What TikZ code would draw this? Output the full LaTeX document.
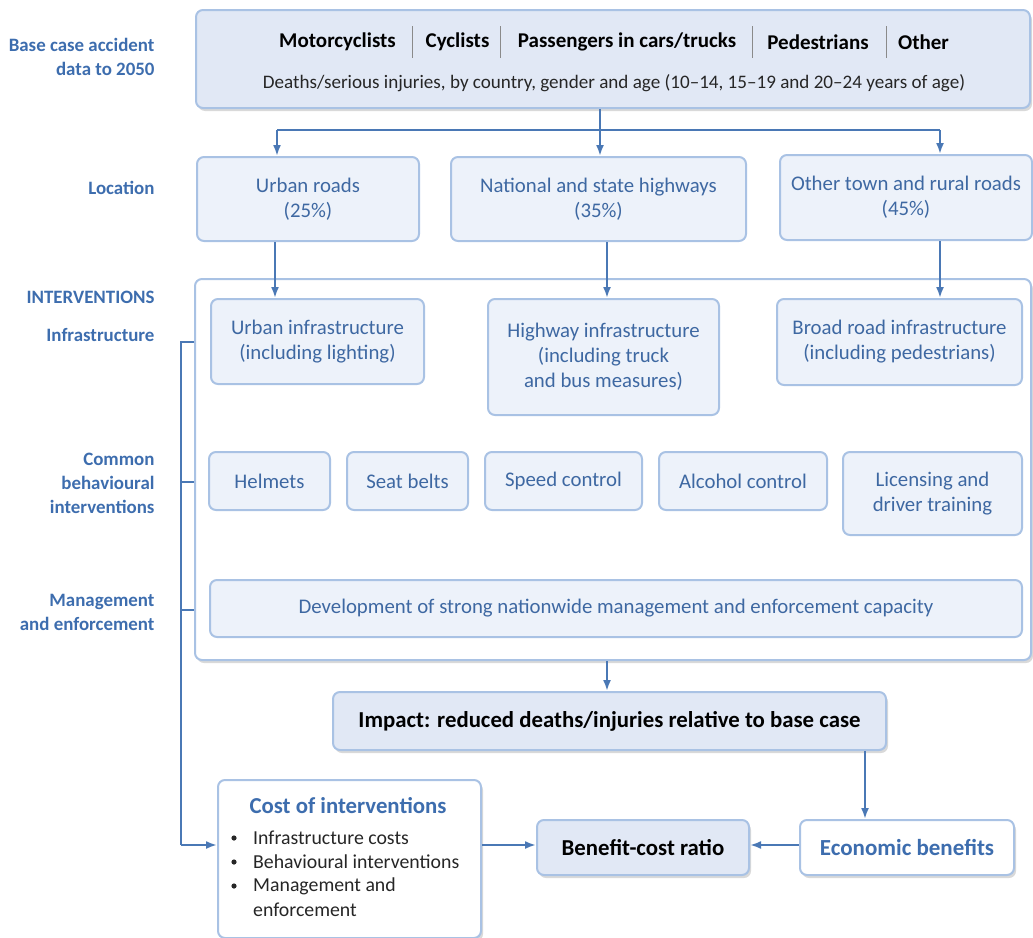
\documentclass[tikz,border=0pt]{standalone}
\usepackage{fontspec}
\setmainfont{Carlito}
\usetikzlibrary{arrows.meta,shadows,calc}
\definecolor{lbl}{HTML}{3D6DAE}
\definecolor{boxtxt}{HTML}{3E68A2}
\definecolor{bdr}{HTML}{A9C2E4}
\definecolor{fillA}{HTML}{E1E8F5}
\definecolor{fillB}{HTML}{EDF2FA}
\definecolor{ln}{HTML}{4A78B5}
\definecolor{sep}{HTML}{8A8A8A}
\begin{document}
\begin{tikzpicture}[x=1pt,y=-1pt,
  base/.style={draw=bdr,line width=2pt,rounded corners=7pt,inner sep=0pt,align=center},
  shad/.style={drop shadow={shadow xshift=2pt,shadow yshift=-3pt,opacity=0.25,fill=black!60}},
  darkbox/.style={base,fill=fillA,shad,font=\fontsize{22.8}{26}\selectfont\bfseries,text=black},
  locbox/.style={base,fill=fillB,text=boxtxt,font=\fontsize{20.8}{25}\selectfont},
  whitebox/.style={base,fill=white,shad},
  side/.style={anchor=east,align=right,text=lbl,font=\fontsize{18.9}{24}\selectfont\bfseries},
  hdr/.style={font=\fontsize{21}{24}\selectfont\bfseries,text=black,inner sep=0pt},
  line/.style={draw=ln,line width=2pt},
  arr/.style={line,-{Latex[length=11pt,width=8pt]}},
  bul/.style={anchor=west,inner sep=0pt,font=\fontsize{19.8}{24}\selectfont,text=black!85}
]
\useasboundingbox (0,0) rectangle (1033,937);

% top box
\node[base,fill=fillA,shad,minimum width=834pt,minimum height=98pt] (top) at (613,59) {};
\node[hdr] (h1) at (337.5,42) {Motorcyclists};
\node[hdr] (h2) at (457.5,42) {Cyclists};
\node[hdr] (h3) at (627,42) {Passengers in cars/trucks};
\node[hdr] (h4) at (818,42) {Pedestrians};
\node[hdr] (h5) at (923.5,42) {Other};
\foreach \x in {412,500,752,886} \draw[sep,line width=1pt] (\x,26) -- (\x,58);
\node[inner sep=0pt,font=\fontsize{19.1}{22}\selectfont,text=black!85] (dline) at (614,83) {Deaths/serious injuries, by country, gender and age (10–14, 15–19 and 20–24 years of age)};

% side labels
\node[side] (s1) at (158,57) {Base case accident\\data to 2050};
\node[side] (s2) at (158,188) {Location};
\node[side] (s3) at (158,297) {INTERVENTIONS};
\node[side] (s4) at (158,335) {Infrastructure};
\node[side] (s5) at (158,483) {Common\\behavioural\\interventions};
\node[side] (s6) at (158,612) {Management\\and enforcement};

% location boxes
\node[locbox,minimum width=222pt,minimum height=84pt] (urban) at (308,199) {Urban roads\\(25\%)};
\node[locbox,minimum width=295pt,minimum height=84pt] (nat) at (598.5,199) {National and state highways\\(35\%)};
\node[locbox,minimum width=252pt,minimum height=85pt] (oth) at (906,197.5) {Other town and rural roads\\(45\%)};

% interventions frame
\node[whitebox,minimum width=836pt,minimum height=381pt] (intv) at (613,469.5) {};

\node[locbox,minimum width=213pt,minimum height=85pt] (uinf) at (317.5,341.5) {Urban infrastructure\\(including lighting)};
\node[locbox,minimum width=231pt,minimum height=116pt] (hinf) at (603.5,357) {Highway infrastructure\\(including truck\\and bus measures)};
\node[locbox,minimum width=245pt,minimum height=86pt] (binf) at (899.5,342) {Broad road infrastructure\\(including pedestrians)};

\node[locbox,minimum width=121pt,minimum height=58pt] (helm) at (269.5,481) {Helmets};
\node[locbox,minimum width=121pt,minimum height=58pt] (seat) at (407.5,481) {Seat belts};
\node[locbox,minimum width=157pt,minimum height=58pt] (speed) at (563.5,481) {Speed control};
\node[locbox,minimum width=168pt,minimum height=58pt] (alc) at (743,481) {Alcohol control};
\node[locbox,minimum width=179pt,minimum height=83pt] (lic) at (932.5,493.5) {Licensing and\\driver training};

\node[locbox,minimum width=812pt,minimum height=57pt] (mgmt) at (616,608.5) {Development of strong nationwide management and enforcement capacity};

% impact
\node[darkbox,minimum width=553pt,minimum height=58pt] (imp) at (609.5,721) {Impact: reduced deaths/injuries relative to base case};

% bottom row
\node[whitebox,minimum width=263pt,minimum height=158pt] (cost) at (349.5,859) {};
\node[inner sep=0pt,text=lbl,font=\fontsize{22.8}{24}\selectfont\bfseries] (ctitle) at (348,806) {Cost of interventions};
\node[bul] (b1) at (253,838) {Infrastructure costs};
\node[bul] (b2) at (253,862) {Behavioural interventions};
\node[bul] (b3) at (253,886) {Management and};
\node[bul] (b4) at (253,910) {enforcement};
\foreach \y in {838,862,886} \fill[black!85] (234,\y) circle (2.6pt);

\node[darkbox,minimum width=212pt,minimum height=55pt] (bcr) at (643,847.5) {Benefit-cost ratio};
\node[whitebox,minimum width=214pt,minimum height=55pt,text=lbl,font=\fontsize{23}{25}\selectfont\bfseries] (econ) at (907,847.5) {Economic benefits};

% connectors
\coordinate (cA) at (277,130);
\coordinate (cB) at (600,130);
\coordinate (cC) at (940,130);
\draw[line] (cA) -- (cC);
\draw[arr] (top.south -| cB) -- (nat.north -| cB);
\draw[arr] (cA) -- (urban.north -| cA);
\draw[arr] (cC) -- (oth.north -| cC);

\coordinate (dA) at (275,0);
\coordinate (dB) at (607,0);
\draw[arr] (urban.south -| dA) -- (uinf.north -| dA);
\draw[arr] (nat.south -| dB) -- (hinf.north -| dB);
\draw[arr] (oth.south -| cC) -- (binf.north -| cC);

\coordinate (k0) at (181,342);
\coordinate (k1) at (181,482);
\coordinate (k2) at (181,610);
\coordinate (k3) at (181,845);
\draw[line] (k0 -| intv.west) -- (k0) -- (k3);
\draw[line] (k1) -- (k1 -| intv.west);
\draw[line] (k2) -- (k2 -| intv.west);
\draw[arr] (k3) -- (k3 -| cost.west);

\draw[arr] (intv.south -| dB) -- (imp.north -| dB);
\coordinate (eX) at (865,0);
\draw[arr] (imp.south -| eX) -- (econ.north -| eX);
\draw[arr] (cost.east |- k3) -- (bcr.west |- k3);
\draw[arr] (econ.west |- k3) -- (bcr.east |- k3);
\end{tikzpicture}
\end{document}
